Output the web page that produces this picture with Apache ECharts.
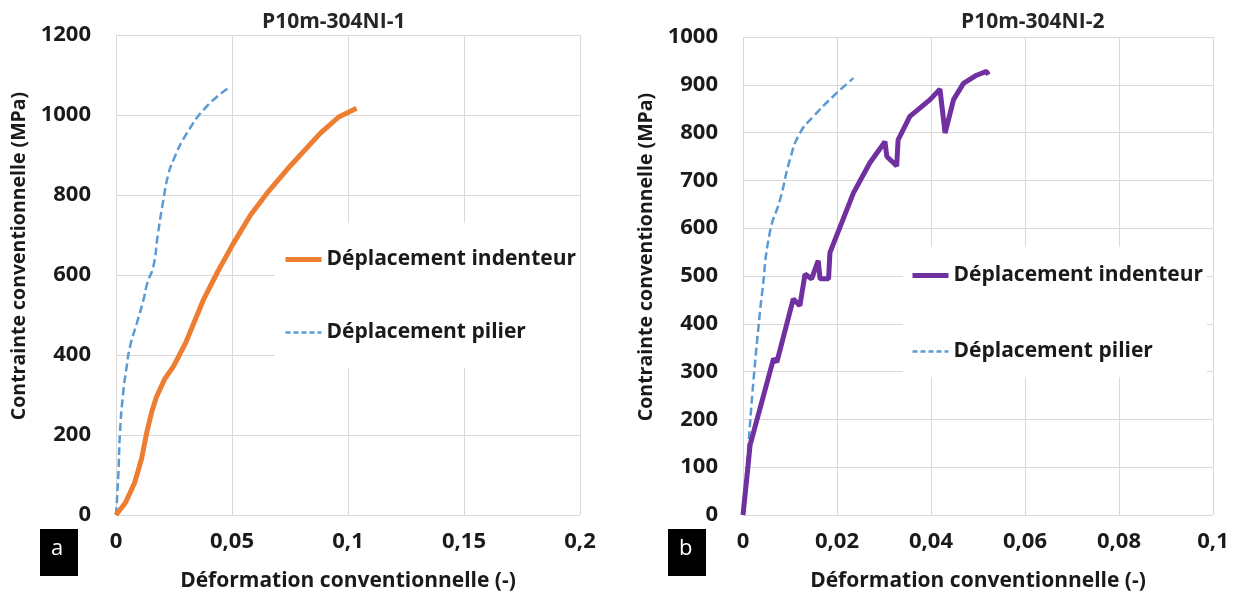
<!DOCTYPE html>
<html>
<head>
<meta charset="utf-8">
<script src="https://cdn.jsdelivr.net/npm/echarts@6/dist/echarts.min.js"></script>
<style>
  html, body { margin: 0; padding: 0; background: #fff; }
  #chartA { position: absolute; left: 0; top: 0; width: 618px; height: 597px; }
  #chartB { position: absolute; left: 618px; top: 0; width: 618px; height: 597px; }
</style>
</head>
<body>
<div id="chartA"></div>
<div id="chartB"></div>
<script>
// --- données ---
// a) P10m-304NI-1
var strainA_indenteur = [0, 0.004, 0.008, 0.011, 0.0132, 0.0155, 0.0175, 0.021, 0.0247, 0.03, 0.0376, 0.044, 0.0506, 0.058, 0.065, 0.075, 0.088, 0.096, 0.1037];
var stressA_indenteur = [0, 30, 80, 140, 205, 260, 296, 340, 371, 430, 537, 610, 679, 750, 804, 872, 954, 995, 1017];
var strainA_pilier = [0, 0.001, 0.0017, 0.003, 0.0046, 0.006, 0.009, 0.0118, 0.0135, 0.0161, 0.018, 0.0204, 0.0225, 0.0247, 0.0305, 0.039, 0.0484];
var stressA_pilier = [0, 100, 205, 300, 371, 420, 480, 537, 580, 621, 700, 787, 850, 887, 954, 1021, 1067];

// b) P10m-304NI-2
var strainB_indenteur = [0, 0.0011, 0.0015, 0.0065, 0.0072, 0.0107, 0.0121, 0.0132, 0.0146, 0.016, 0.0164, 0.0182, 0.0185, 0.0235, 0.027, 0.0302, 0.0306, 0.0327, 0.033, 0.0355, 0.0398, 0.0419, 0.043, 0.0448, 0.0469, 0.0497, 0.0518, 0.0522];
var stressB_indenteur = [0, 105, 146, 327, 320, 452, 438, 504, 494, 532, 494, 494, 549, 674, 737, 781, 750, 730, 785, 834, 869, 891, 799, 869, 903, 920, 928, 921];
var strainB_pilier = [0, 0.0011, 0.0022, 0.0036, 0.004, 0.0057, 0.0079, 0.01, 0.0121, 0.015, 0.0192, 0.0235];
var stressB_pilier = [8, 140, 278, 424, 459, 591, 660, 744, 799, 834, 876, 914];

var titles = ["P10m-304NI-1", "P10m-304NI-2"];
var panelLetters = ["a", "b"];
var seriesNames = ["Déplacement indenteur", "Déplacement pilier"];
var xName = "Déformation conventionnelle (-)";
var yName = "Contrainte conventionnelle (MPa)";

var font = "'Open Sans', sans-serif";
var txtColor = "#1a1a1a";
var gridColor = "#d9d9d9";
var pilierColor = "#5b9bd5";

function pairs(xs, ys) {
  return xs.map(function (x, i) { return [x, ys[i]]; });
}
function comma(v) {
  return String(parseFloat(v.toFixed(4))).replace(".", ",");
}

function buildOption(p) {
  return {
    animation: false,
    backgroundColor: "#fff",
    title: {
      text: p.title,
      left: p.titleLeft,
      top: 7,
      textStyle: { fontFamily: font, fontWeight: "bold", fontSize: 21, color: "#262626" },
    },
    legend: {
      orient: "vertical",
      left: p.legendLeft,
      top: p.legendTop,
      padding: p.legendPadding,
      backgroundColor: "#fff",
      itemWidth: 36,
      itemHeight: 14,
      itemGap: p.legendGap,
      itemStyle: { opacity: 0 },
      textStyle: { fontFamily: font, fontWeight: "bold", fontSize: 21, color: txtColor },
      data: [
        { name: seriesNames[0], lineStyle: { width: 5, color: p.indColor } },
        { name: seriesNames[1], lineStyle: { width: 2.5, color: pilierColor, type: [5, 3] } },
      ],
    },
    grid: p.grid,
    xAxis: {
      type: "value",
      min: 0,
      max: p.xMax,
      interval: p.xInterval,
      name: xName,
      nameLocation: "middle",
      nameGap: 56,
      nameTextStyle: { fontFamily: font, fontWeight: "bold", fontSize: 21, color: txtColor },
      axisLine: { show: false },
      axisTick: { show: false },
      axisLabel: {
        margin: 16,
        fontFamily: font, fontWeight: "bold", fontSize: 22, color: txtColor,
        formatter: comma,
      },
      splitLine: { show: true, lineStyle: { color: gridColor, width: 1 } },
    },
    yAxis: {
      type: "value",
      min: 0,
      max: p.yMax,
      interval: p.yInterval,
      name: yName,
      nameLocation: "middle",
      nameGap: p.yNameGap,
      nameTextStyle: {
        fontFamily: font, fontWeight: "bold", fontSize: 19.5, color: txtColor,
        padding: [0, 0, 0, 38],
      },
      axisLine: { show: false },
      axisTick: { show: false },
      axisLabel: {
        margin: 25,
        fontFamily: font, fontWeight: "bold", fontSize: 22, color: txtColor,
        formatter: function (v) { return String(v); },
      },
      splitLine: { show: true, lineStyle: { color: gridColor, width: 1 } },
    },
    graphic: [
      {
        type: "rect",
        left: p.boxLeft,
        top: 529,
        shape: { width: 38, height: 47 },
        style: { fill: "#000" },
      },
      {
        type: "text",
        left: p.boxLeft + 11,
        top: 538,
        style: { text: p.letter, fill: "#fff", font: "22px " + font },
      },
    ],
    series: [
      {
        name: seriesNames[0],
        type: "line",
        data: p.ind,
        symbol: "none",
        lineStyle: { color: p.indColor, width: 5 },
        itemStyle: { color: p.indColor },
        z: 3,
      },
      {
        name: seriesNames[1],
        type: "line",
        data: p.pil,
        symbol: "none",
        smooth: true,
        lineStyle: { color: pilierColor, width: 2.5, type: [8, 4] },
        itemStyle: { color: pilierColor },
        z: 2,
      },
    ],
  };
}

var chartA = echarts.init(document.getElementById("chartA"));
var chartB = echarts.init(document.getElementById("chartB"));

chartA.setOption(buildOption({
  title: titles[0],
  titleLeft: 257,
  letter: panelLetters[0],
  boxLeft: 40,
  grid: { left: 116, right: 38, top: 35, bottom: 82 },
  xMax: 0.2, xInterval: 0.05,
  yMax: 1200, yInterval: 200,
  yNameGap: 68,
  legendLeft: 275, legendTop: 223, legendPadding: [26, 4, 25, 8], legendGap: 52,
  indColor: "#ed7d31",
  ind: pairs(strainA_indenteur, stressA_indenteur),
  pil: pairs(strainA_pilier, stressA_pilier),
}));

chartB.setOption(buildOption({
  title: titles[1],
  titleLeft: 338,
  letter: panelLetters[1],
  boxLeft: 50,
  grid: { left: 125, right: 23, top: 37, bottom: 80 },
  xMax: 0.1, xInterval: 0.02,
  yMax: 1000, yInterval: 100,
  yNameGap: 68,
  legendLeft: 285, legendTop: 247, legendPadding: [18, 4, 15, 7], legendGap: 55,
  indColor: "#7030a0",
  ind: pairs(strainB_indenteur, stressB_indenteur),
  pil: pairs(strainB_pilier, stressB_pilier),
}));
</script>
</body>
</html>
